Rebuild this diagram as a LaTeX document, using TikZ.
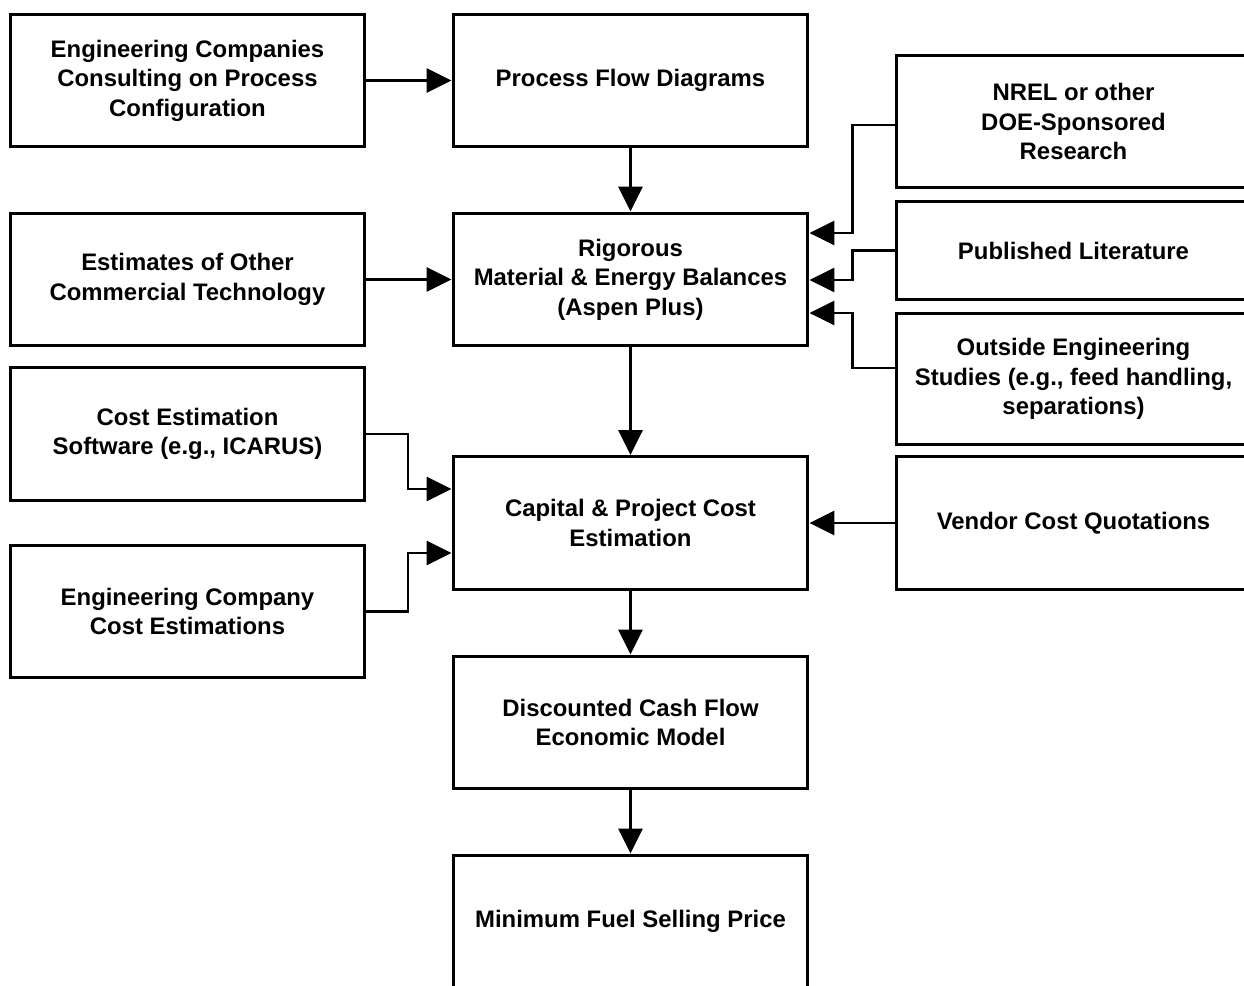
\documentclass[tikz,border=0pt]{standalone}
\usepackage{fontspec}
\setmainfont{Liberation Sans}
\usetikzlibrary{arrows.meta, positioning}

\begin{document}
\begin{tikzpicture}[x=0.02cm, y=-0.02cm, line width=1.7pt,
        box/.style={draw, rectangle, minimum width=7.1cm, minimum height=2.66cm,
                align=center, font=\bfseries\fontsize{13.6}{16.8}\selectfont, inner sep=2pt},
        feed/.style={-{Triangle[length=0.5cm, width=0.48cm]}}]
        \useasboundingbox (0,0) rectangle (1244,986);
        \clip (0,0) rectangle (1244,986);
        % left column
        \node[box] (eng_cons) at (187.5,80.5)  {Engineering Companies\\Consulting on Process\\Configuration};
        \node[box] (est_other) at (187.5,279.5) {Estimates of Other\\Commercial Technology};
        \node[box] (cost_soft) at (187.5,434)  {Cost Estimation\\Software (e.g., ICARUS)};
        \node[box] (eng_cost) at (187.5,611.5) {Engineering Company\\Cost Estimations};
        % main chain
        \node[box] (pfd) at (630.5,80.5) {Process Flow Diagrams};
        \node[box] (balances) at (630.5,279.5) {Rigorous\\Material \& Energy Balances\\(Aspen Plus)};
        \node[box] (capital) at (630.5,523) {Capital \& Project Cost\\Estimation};
        \node[box] (dcf) at (630.5,722.5) {Discounted Cash Flow\\Economic Model};
        \node[box] (mfsp) at (630.5,921.5) {Minimum Fuel Selling Price};
        % right column
        \node[box] (nrel) at (1073.5,121.5) {NREL or other\\DOE-Sponsored\\Research};
        \node[box, minimum height=1.98cm] (lit) at (1073.5,250.5) {Published Literature};
        \node[box, minimum height=2.64cm] (outside) at (1073.5,379) {Outside Engineering\\Studies (e.g., feed handling,\\separations)};
        \node[box] (vendor) at (1073.5,523) {Vendor Cost Quotations};
        \path[feed]
        (eng_cons) edge (pfd)
        (pfd) edge (balances)
        (est_other) edge (balances)
        (balances) edge (capital)
        (vendor) edge (capital)
        (capital) edge (dcf)
        (dcf) edge (mfsp);
        \draw[feed] (cost_soft.east) -| (408,489) -- (capital.west |- 0,489);
        \draw[feed] (eng_cost.east) -| (408,553) -- (capital.west |- 0,553);
        \draw[feed] (nrel.west |- 0,125) -| (852,233) -- (balances.east |- 0,233);
        \draw[feed] (lit.west) -| (852,280) -- (balances.east |- 0,280);
        \draw[feed] (outside.west |- 0,368) -| (852,313) -- (balances.east |- 0,313);
\end{tikzpicture}
\end{document}
